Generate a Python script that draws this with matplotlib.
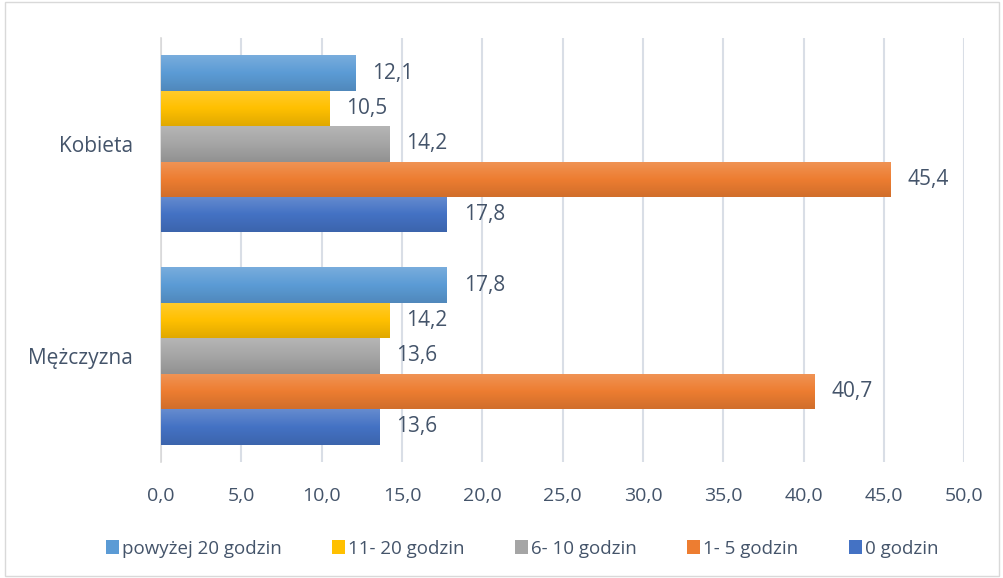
import numpy as np
import matplotlib.pyplot as plt
from matplotlib.colors import LinearSegmentedColormap, to_rgb
from matplotlib.patches import Rectangle

categories = ['Mężczyzna', 'Kobieta']
series_names = ['0 godzin', '1- 5 godzin', '6- 10 godzin', '11- 20 godzin', 'powyżej 20 godzin']
values = {
    '0 godzin': [13.6, 17.8],
    '1- 5 godzin': [40.7, 45.4],
    '6- 10 godzin': [13.6, 14.2],
    '11- 20 godzin': [14.2, 10.5],
    'powyżej 20 godzin': [17.8, 12.1],
}
colors = {
    '0 godzin': '#4472C4',
    '1- 5 godzin': '#ED7D31',
    '6- 10 godzin': '#A5A5A5',
    '11- 20 godzin': '#FFC000',
    'powyżej 20 godzin': '#5B9BD5',
}
xticks = np.arange(0, 51, 5)

text_color = '#44546A'
plt.rcParams['font.family'] = ['Open Sans', 'DejaVu Sans']

fig = plt.figure(figsize=(10.04, 5.78), dpi=100)
ax = fig.add_axes([0.1604, 0.2007, 0.8, 0.7336])

# ramka wokół całego wykresu
fig.patches.append(Rectangle((0.005, 0.003), 0.99, 0.994, transform=fig.transFigure,
                             fill=False, edgecolor='#D9D9D9', linewidth=1))


def shade(c, f):
    r = np.array(to_rgb(c))
    if f > 0:
        return tuple(r + (1 - r) * f)
    return tuple(r * (1 + f))


h = 0.167
y = np.arange(len(categories))
n = len(series_names)
for i, name in enumerate(series_names):
    pos = y + (i - (n - 1) / 2) * h
    bars = ax.barh(pos, values[name], height=h, color=colors[name], label=name, zorder=3)
    cmap = LinearSegmentedColormap.from_list(
        name, [shade(colors[name], -0.12), colors[name], shade(colors[name], 0.18)])
    grad = np.linspace(0, 1, 100).reshape(-1, 1)
    for b, v in zip(bars, values[name]):
        x0, y0 = b.get_x(), b.get_y()
        im = ax.imshow(grad, extent=[x0, x0 + b.get_width(), y0, y0 + b.get_height()],
                       origin='lower', cmap=cmap, aspect='auto', zorder=4)
        im.set_clip_path(b)
        ax.annotate(f'{v:.1f}'.replace('.', ','), (v, y0 + b.get_height() / 2),
                    xytext=(12, 0), textcoords='offset points', va='center', ha='left',
                    fontsize=15, color=text_color, zorder=5)

ax.set_xlim(0, 50)
ax.set_ylim(-0.5, 1.5)
ax.set_xticks(xticks)
ax.set_xticklabels([f'{t:.1f}'.replace('.', ',') for t in xticks])
ax.set_yticks(y)
ax.set_yticklabels(categories, fontsize=15)
ax.tick_params(axis='both', length=0, labelcolor=text_color)
ax.tick_params(axis='x', pad=18, labelsize=14)
ax.tick_params(axis='y', pad=20)
ax.grid(axis='x', color='#D9DEE6', linewidth=1.5, zorder=0)
for s in ['top', 'right', 'bottom']:
    ax.spines[s].set_visible(False)
ax.spines['left'].set_color('#D9D9D9')
ax.spines['left'].set_linewidth(1.2)

handles, labels = ax.get_legend_handles_labels()
leg = fig.legend(handles[::-1], labels[::-1], loc='center', bbox_to_anchor=(0.52, 0.051),
                 ncol=5, frameon=False, fontsize=13.5, handlelength=0.7, handleheight=0.7,
                 handletextpad=0.15, columnspacing=2.7, labelcolor=text_color)

fig.savefig('out.png', dpi=100)
